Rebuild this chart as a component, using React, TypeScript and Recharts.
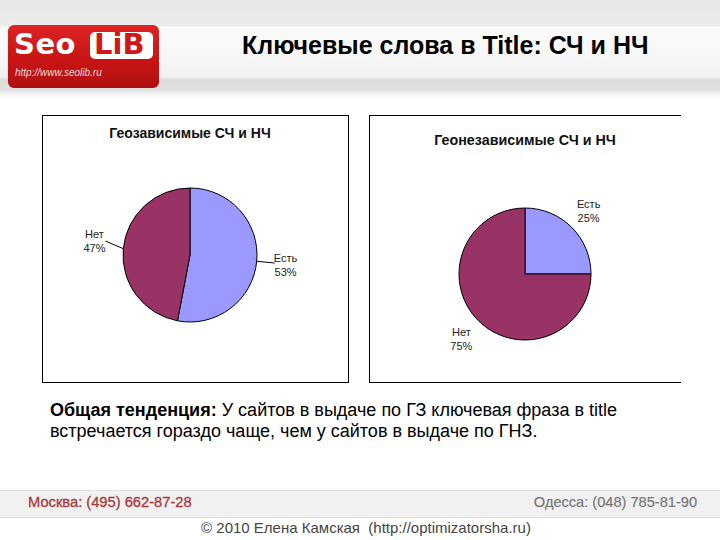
import React from 'react';
import { PieChart, Pie, Cell } from 'recharts';

const sliceNames = ['Есть', 'Нет'];
const geoValues = [53, 47];
const nonGeoValues = [25, 75];
const sliceColors = ['#9999FF', '#993366'];

const geoTitle = 'Геозависимые СЧ и НЧ';
const nonGeoTitle = 'Геонезависимые СЧ и НЧ';
const slideTitle = 'Ключевые слова в Title: СЧ и НЧ';

const geoData = sliceNames.map((name, i) => ({ name, value: geoValues[i] }));
const nonGeoData = sliceNames.map((name, i) => ({ name, value: nonGeoValues[i] }));

const RAD = Math.PI / 180;

function makeLabel(labelRadius: number, withLine: boolean) {
  return (props: any) => {
    const { cx, cy, midAngle, outerRadius, name, value } = props;
    const cos = Math.cos(-midAngle * RAD);
    const sin = Math.sin(-midAngle * RAD);
    const x = cx + labelRadius * cos;
    const y = cy + labelRadius * sin;
    const sx = cx + outerRadius * cos;
    const sy = cy + outerRadius * sin;
    const ex = cx + (outerRadius + 18) * cos;
    const ey = cy + (outerRadius + 18) * sin - (cos < 0 ? 6 : 0);
    return (
      <g>
        {withLine && <line x1={sx} y1={sy} x2={ex} y2={ey} stroke="#000" strokeWidth={1} />}
        <text
          x={x}
          y={y - (cos < 0 && withLine ? 6 : 0)}
          textAnchor="middle"
          fontFamily="'Liberation Sans', Arial, sans-serif"
          fontSize={11}
          fill="#222"
        >
          <tspan x={x} dy={-2}>{name}</tspan>
          <tspan x={x} dy={14}>{`${value}%`}</tspan>
        </text>
      </g>
    );
  };
}

const sans = "'Liberation Sans', Arial, sans-serif";

export default function App() {
  return (
    <div
      style={{
        position: 'absolute',
        left: 0,
        top: 0,
        width: 720,
        height: 540,
        background: '#ffffff',
        overflow: 'hidden',
        fontFamily: sans,
      }}
    >
      {/* header background */}
      <div
        style={{
          position: 'absolute',
          left: 0,
          top: 0,
          width: 720,
          height: 100,
          background:
            'linear-gradient(180deg, #e6e6e6 0px, #ececec 26px, #fbfbfb 27px, #f6f6f6 60px, #f1f1f1 77px, #dadada 80px, #e2e2e2 90px, #f6f6f6 95px, #ffffff 100px)',
        }}
      />
      {/* logo */}
      <div
        style={{
          position: 'absolute',
          left: 8,
          top: 25,
          width: 151,
          height: 63,
          borderRadius: 6,
          background: 'linear-gradient(180deg, #de2424 0%, #c81414 55%, #b01010 100%)',
        }}
      />
      <div
        style={{
          position: 'absolute',
          left: 14,
          top: 27,
          fontFamily: "'DejaVu Sans', sans-serif",
          fontWeight: 'bold',
          fontSize: 29,
          color: '#ffffff',
          letterSpacing: 0.5,
        }}
      >
        Seo
      </div>
      <div
        style={{
          position: 'absolute',
          left: 90,
          top: 32,
          width: 63,
          height: 27,
          borderRadius: 5,
          background: '#ffffff',
        }}
      />
      <div
        style={{
          position: 'absolute',
          left: 94,
          top: 27,
          fontFamily: "'DejaVu Sans', sans-serif",
          fontWeight: 'bold',
          fontSize: 29,
          color: '#d01818',
        }}
      >
        LiB
      </div>
      <div
        style={{
          position: 'absolute',
          left: 15,
          top: 67,
          fontSize: 10,
          fontStyle: 'italic',
          color: '#f4dede',
        }}
      >
        http://www.seolib.ru
      </div>
      {/* slide title */}
      <div
        style={{
          position: 'absolute',
          left: 242,
          top: 31,
          fontSize: 25,
          fontWeight: 'bold',
          color: '#000',
          whiteSpace: 'nowrap',
        }}
      >
        {slideTitle}
      </div>

      {/* left chart box */}
      <div
        style={{
          position: 'absolute',
          left: 42,
          top: 115,
          width: 307,
          height: 268,
          border: '1.5px solid #000',
          boxSizing: 'border-box',
          background: '#fff',
        }}
      >
        <div
          style={{
            position: 'absolute',
            left: 0,
            top: 9,
            width: 294,
            textAlign: 'center',
            fontSize: 14,
            fontWeight: 'bold',
            color: '#111',
            whiteSpace: 'nowrap',
          }}
        >
          {geoTitle}
        </div>
        <div style={{ position: 'absolute', left: 0, top: 0 }}>
          <PieChart width={303} height={264}>
            <Pie
              data={geoData}
              dataKey="value"
              nameKey="name"
              cx={142}
              cy={134}
              outerRadius={67}
              startAngle={90}
              endAngle={-270}
              stroke="#000"
              strokeWidth={1}
              isAnimationActive={false}
              labelLine={false}
              label={makeLabel(96, true)}
            >
              {geoData.map((d, i) => (
                <Cell key={d.name} fill={sliceColors[i]} />
              ))}
            </Pie>
          </PieChart>
        </div>
      </div>

      {/* right chart box */}
      <div
        style={{
          position: 'absolute',
          left: 369,
          top: 115,
          width: 312,
          height: 268,
          borderLeft: '1.5px solid #000',
          borderTop: '1.5px solid #000',
          borderBottom: '1.5px solid #000',
          boxSizing: 'border-box',
          background: '#fff',
        }}
      >
        <div
          style={{
            position: 'absolute',
            left: 0,
            top: 16,
            width: 310,
            textAlign: 'center',
            fontSize: 14.3,
            fontWeight: 'bold',
            color: '#111',
            whiteSpace: 'nowrap',
          }}
        >
          {nonGeoTitle}
        </div>
        <div style={{ position: 'absolute', left: 0, top: 0 }}>
          <PieChart width={310} height={264}>
            <Pie
              data={nonGeoData}
              dataKey="value"
              nameKey="name"
              cx={150}
              cy={153}
              outerRadius={66}
              startAngle={90}
              endAngle={-270}
              stroke="#000"
              strokeWidth={1}
              isAnimationActive={false}
              labelLine={false}
              label={makeLabel(90, false)}
            >
              {nonGeoData.map((d, i) => (
                <Cell key={d.name} fill={sliceColors[i]} />
              ))}
            </Pie>
          </PieChart>
        </div>
      </div>

      {/* body text */}
      <div
        style={{
          position: 'absolute',
          left: 50,
          top: 400,
          fontSize: 18,
          lineHeight: '21px',
          color: '#000',
          whiteSpace: 'nowrap',
        }}
      >
        <b>Общая тенденция:</b> У сайтов в выдаче по ГЗ ключевая фраза в title
        <br />
        встречается гораздо чаще, чем у сайтов в выдаче по ГНЗ.
      </div>

      {/* footer */}
      <div
        style={{
          position: 'absolute',
          left: 0,
          top: 490,
          width: 720,
          height: 26,
          background: '#f1f1f1',
          borderTop: '1px solid #e2e2e2',
          borderBottom: '1px solid #dcdcdc',
        }}
      />
      <div
        style={{
          position: 'absolute',
          left: 28,
          top: 494,
          fontSize: 14.7,
          color: '#a83838',
          whiteSpace: 'nowrap',
          WebkitTextStroke: '0.3px #a83838',
        }}
      >
        Москва: (495) 662-87-28
      </div>
      <div
        style={{
          position: 'absolute',
          right: 23,
          top: 494,
          fontSize: 14.6,
          color: '#777777',
          whiteSpace: 'nowrap',
          WebkitTextStroke: '0.2px #777777',
        }}
      >
        Одесса: (048) 785-81-90
      </div>
      <div
        style={{
          position: 'absolute',
          left: 0,
          top: 519,
          width: 732,
          textAlign: 'center',
          fontSize: 15,
          color: '#444',
          whiteSpace: 'pre',
        }}
      >
        {'© 2010 Елена Камская  (http://optimizatorsha.ru)'}
      </div>
    </div>
  );
}
